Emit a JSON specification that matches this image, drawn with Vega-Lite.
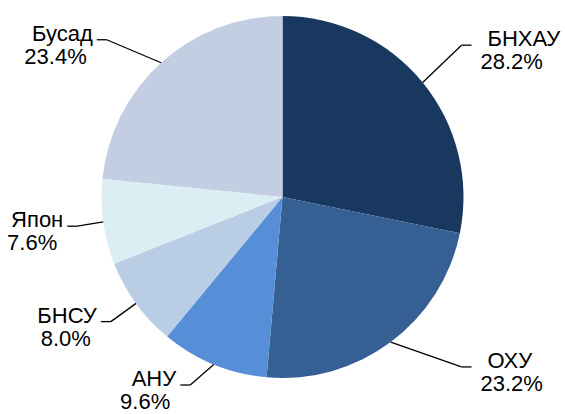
{
  "$schema": "https://vega.github.io/schema/vega-lite/v6.json",
  "width": 565,
  "height": 394,
  "autosize": {"type": "none"},
  "padding": {"left": 0, "right": 0, "top": 0, "bottom": 20},
  "background": "white",
  "config": {
    "view": {"stroke": null},
    "text": {"font": "Liberation Sans", "fontSize": 22, "fill": "#000000", "baseline": "alphabetic"}
  },
  "data": {
    "values": [
      {"country": "БНХАУ", "share": 28.2},
      {"country": "ОХУ", "share": 23.2},
      {"country": "АНУ", "share": 9.6},
      {"country": "БНСУ", "share": 8.0},
      {"country": "Япон", "share": 7.6},
      {"country": "Бусад", "share": 23.4}
    ]
  },
  "transform": [
    {"window": [{"op": "row_number", "as": "idx"}]},
    {"window": [{"op": "sum", "field": "share", "as": "cum"}], "sort": [{"field": "idx"}], "frame": [null, 0]},
    {"calculate": "(datum.cum - datum.share / 2) / 100 * 2 * PI", "as": "mid"},
    {"calculate": "181 * sin(datum.mid)", "as": "sx"},
    {"calculate": "181 * cos(datum.mid)", "as": "sy"},
    {"calculate": "sin(datum.mid) >= 0 ? 1 : -1", "as": "side"},
    {"calculate": "datum.side > 0 ? 205 : -(185 * abs(sin(datum.mid)) + 36 + 40 * max(cos(datum.mid), 0))", "as": "ax"},
    {"calculate": "max(212 * cos(datum.mid) + (datum.side > 0 ? 28 * max(cos(datum.mid), 0) : 0), -188)", "as": "ay"},
    {"calculate": "datum.side > 0 ? datum.ax - 16 : datum.ax + 4", "as": "hx"},
    {"calculate": "datum.hx - datum.side * 10", "as": "ex"},
    {"calculate": "datum.side > 0 ? datum.ax - 7 : datum.ax - 6", "as": "qx"},
    {"calculate": "format(datum.share, '.1f') + '%'", "as": "pct"}
  ],
  "layer": [
    {
      "mark": {"type": "arc", "outerRadius": 181},
      "encoding": {
        "theta": {"field": "share", "type": "quantitative", "stack": true},
        "order": {"field": "idx", "type": "quantitative"},
        "color": {
          "field": "country",
          "type": "nominal",
          "legend": null,
          "scale": {
            "domain": ["БНХАУ", "ОХУ", "АНУ", "БНСУ", "Япон", "Бусад"],
            "range": ["#18385f", "#366093", "#568fd7", "#b9cde5", "#dbeef4", "#c4cee3"]
          }
        }
      }
    },
    {
      "mark": {"type": "rule", "color": "#000000", "strokeWidth": 1.3},
      "encoding": {
        "x": {"field": "sx", "type": "quantitative", "axis": null, "scale": {"domain": [-282.5, 282.5], "nice": false, "zero": false}},
        "y": {"field": "sy", "type": "quantitative", "axis": null, "scale": {"domain": [-197, 197], "nice": false, "zero": false}},
        "x2": {"field": "ex"},
        "y2": {"field": "ay"}
      }
    },
    {
      "mark": {"type": "rule", "color": "#000000", "strokeWidth": 1.3},
      "encoding": {
        "x": {"field": "ex", "type": "quantitative", "axis": null, "scale": {"domain": [-282.5, 282.5], "nice": false, "zero": false}},
        "y": {"field": "ay", "type": "quantitative", "axis": null, "scale": {"domain": [-197, 197], "nice": false, "zero": false}},
        "x2": {"field": "hx"}
      }
    },
    {
      "transform": [{"filter": "datum.side > 0"}],
      "mark": {"type": "text", "align": "left", "dy": 1},
      "encoding": {
        "x": {"field": "ax", "type": "quantitative", "axis": null, "scale": {"domain": [-282.5, 282.5], "nice": false, "zero": false}},
        "y": {"field": "ay", "type": "quantitative", "axis": null, "scale": {"domain": [-197, 197], "nice": false, "zero": false}},
        "text": {"field": "country"}
      }
    },
    {
      "transform": [{"filter": "datum.side > 0"}],
      "mark": {"type": "text", "align": "left", "dy": 24},
      "encoding": {
        "x": {"field": "qx", "type": "quantitative", "axis": null, "scale": {"domain": [-282.5, 282.5], "nice": false, "zero": false}},
        "y": {"field": "ay", "type": "quantitative", "axis": null, "scale": {"domain": [-197, 197], "nice": false, "zero": false}},
        "text": {"field": "pct"}
      }
    },
    {
      "transform": [{"filter": "datum.side < 0"}],
      "mark": {"type": "text", "align": "right", "dy": 1},
      "encoding": {
        "x": {"field": "ax", "type": "quantitative", "axis": null, "scale": {"domain": [-282.5, 282.5], "nice": false, "zero": false}},
        "y": {"field": "ay", "type": "quantitative", "axis": null, "scale": {"domain": [-197, 197], "nice": false, "zero": false}},
        "text": {"field": "country"}
      }
    },
    {
      "transform": [{"filter": "datum.side < 0"}],
      "mark": {"type": "text", "align": "right", "dy": 24},
      "encoding": {
        "x": {"field": "qx", "type": "quantitative", "axis": null, "scale": {"domain": [-282.5, 282.5], "nice": false, "zero": false}},
        "y": {"field": "ay", "type": "quantitative", "axis": null, "scale": {"domain": [-197, 197], "nice": false, "zero": false}},
        "text": {"field": "pct"}
      }
    }
  ]
}
